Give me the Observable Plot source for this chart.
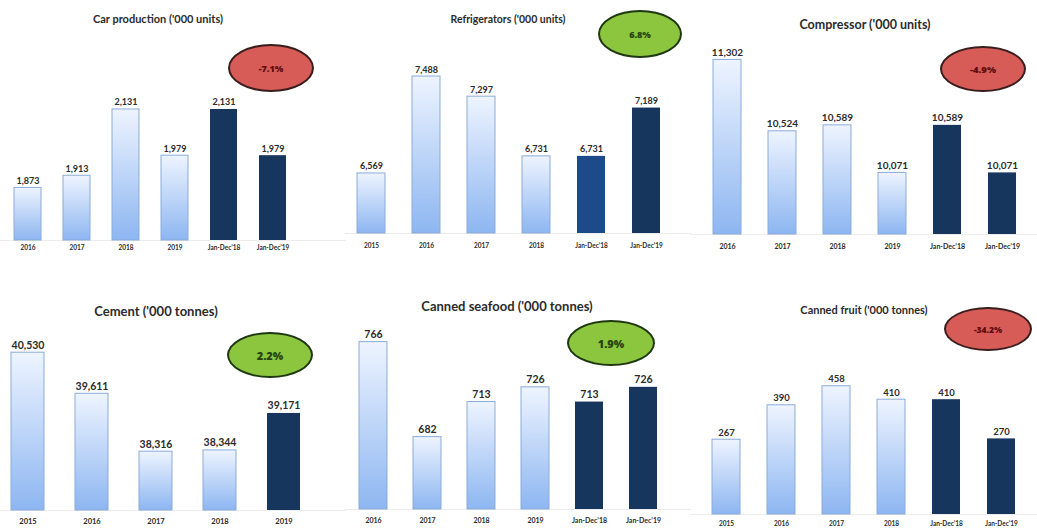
<!DOCTYPE html>
<html><head><meta charset="utf-8">
<script src="https://cdn.jsdelivr.net/npm/d3@7"></script>
<script src="https://cdn.jsdelivr.net/npm/@observablehq/plot@0.6"></script>
<style>
body{margin:0;background:#fff;font-family:Lato,"Open Sans",sans-serif;}
#root{position:relative;width:1037px;height:528px;overflow:hidden;background:#fff;}
.panel{position:absolute;}
.panel svg{overflow:visible;}
.title{position:absolute;transform:translate(-50%,-50%);white-space:nowrap;font-weight:700;color:#2b2b2b;}
.badge{position:absolute;display:flex;align-items:center;justify-content:center;border-radius:50%;font-family:"Open Sans",sans-serif;font-weight:800;font-size:9px;box-sizing:border-box;border:2px solid;}
</style></head><body>
<svg width="0" height="0" style="position:absolute"><defs>
<linearGradient id="barGrad" x1="0" y1="0" x2="0" y2="1">
<stop offset="0" stop-color="#eef4ff"/><stop offset="1" stop-color="#8db6f1"/>
</linearGradient></defs></svg>
<div id="root"></div>
<script>
// ---- data ----
const carCats = ["2016","2017","2018","2019","Jan-Dec’18","Jan-Dec’19"];
const carVals = [1873,1913,2131,1979,2131,1979];
const carChange = "-7.1%";

const fridgeCats = ["2015","2016","2017","2018","Jan-Dec’18","Jan-Dec’19"];
const fridgeVals = [6569,7488,7297,6731,6731,7189];
const fridgeChange = "6.8%";

const compCats = ["2016","2017","2018","2019","Jan-Dec’18","Jan-Dec’19"];
const compVals = [11302,10524,10589,10071,10589,10071];
const compChange = "-4.9%";

const cementCats = ["2015","2016","2017","2018","2019"];
const cementVals = [40530,39611,38316,38344,39171];
const cementChange = "2.2%";

const seafoodCats = ["2016","2017","2018","2019","Jan-Dec’18","Jan-Dec’19"];
const seafoodVals = [766,682,713,726,713,726];
const seafoodChange = "1.9%";

const fruitCats = ["2015","2016","2017","2018","Jan-Dec’18","Jan-Dec’19"];
const fruitVals = [267,390,458,410,410,270];
const fruitChange = "-34.2%";

// ---- layout ----
const panels = [
  {title:"Car production ('000 units)", cats:carCats, vals:carVals, change:carChange,
   dark:["Jan-Dec’18","Jan-Dec’19"], mid:[],
   left:0, top:0, w:345, h:264, xRange:[-10,310], pad:0.45,
   yMin:1700, yMax:2300, base:240, k:0.304,
   tx:158, ty:18, tfs:11, lfs:9, tkfs:6.5, tkpad:5,
   badge:{cx:271, cy:68, rx:43, ry:24, fs:9}},
  {title:"Refrigerators ('000 units)", cats:fridgeCats, vals:fridgeVals, change:fridgeChange,
   dark:["Jan-Dec’19"], mid:["Jan-Dec’18"],
   left:345, top:0, w:345, h:264, xRange:[-16,342], pad:0.5,
   yMin:6000, yMax:7600, base:233, k:0.1055,
   tx:163, ty:19, tfs:10.5, lfs:9, tkfs:6.5, tkpad:10,
   badge:{cx:640-345, cy:34, rx:42, ry:24, fs:9}},
  {title:"Compressor ('000 units)", cats:compCats, vals:compVals, change:compChange,
   dark:["Jan-Dec’18","Jan-Dec’19"], mid:[],
   left:690, top:0, w:347, h:264, xRange:[-4,354], pad:0.49,
   yMin:9400, yMax:11500, base:234, k:0.0918,
   tx:175, ty:24, tfs:12.5, lfs:10, tkfs:7, tkpad:10,
   badge:{cx:983-690, cy:69, rx:43, ry:23, fs:9.5}},
  {title:"Cement ('000 tonnes)", cats:cementCats, vals:cementVals, change:cementChange,
   dark:["2019"], mid:[],
   left:0, top:264, w:345, h:264, xRange:[-22,333], pad:0.49,
   yMin:37000, yMax:41000, base:246, k:0.0447,
   tx:156, ty:47, tfs:13, lfs:10.5, tkfs:7.5, tkpad:8,
   badge:{cx:270, cy:355-264, rx:43, ry:23, fs:11}},
  {title:"Canned seafood ('000 tonnes)", cats:seafoodCats, vals:seafoodVals, change:seafoodChange,
   dark:["Jan-Dec’18","Jan-Dec’19"], mid:[],
   left:345, top:264, w:345, h:264, xRange:[-15,340], pad:0.487,
   yMin:618, yMax:780, base:245, k:1.131,
   tx:162, ty:42, tfs:13, lfs:10.5, tkfs:7, tkpad:9,
   badge:{cx:611-345, cy:343-264, rx:44, ry:23, fs:11}},
  {title:"Canned fruit ('000 tonnes)", cats:fruitCats, vals:fruitVals, change:fruitChange,
   dark:["Jan-Dec’18","Jan-Dec’19"], mid:[],
   left:690, top:264, w:347, h:264, xRange:[-8,355], pad:0.5,
   yMin:0, yMax:480, base:250, k:0.28,
   tx:174, ty:45, tfs:11, lfs:9.5, tkfs:6.5, tkpad:7,
   badge:{cx:988-690, cy:329-264, rx:44, ry:22, fs:8.5}}
];

const root = document.getElementById("root");
const fmt = d3.format(",");

for (const p of panels) {
  const data = p.cats.map((c, i) => ({cat: c, val: p.vals[i]}));
  const isHist = d => !p.dark.includes(d.cat) && !p.mid.includes(d.cat);
  const fillOf = d => p.mid.includes(d.cat) ? "#1d4a88" : p.dark.includes(d.cat) ? "#17365e" : "url(#barGrad)";

  const chart = Plot.plot({
    width: p.w, height: p.h,
    marginTop: 0, marginLeft: 0, marginRight: 0, marginBottom: p.h - p.base,
    x: {type: "band", domain: p.cats, range: p.xRange, padding: p.pad, label: null, axis: null},
    y: {domain: [p.yMin, p.yMax], range: [p.base, p.base - (p.yMax - p.yMin) * p.k], clamp: true, axis: null},
    style: {fontFamily: "Lato, 'Open Sans', sans-serif", background: "transparent", color: "#2b2b2b"},
    marks: [
      Plot.frame({anchor: "bottom", stroke: "#ececec"}),
      Plot.barY(data, {x: "cat", y: "val", fill: fillOf,
        stroke: d => isHist(d) ? "#8aabd9" : "none", strokeWidth: 1}),
      Plot.text(data, {x: "cat", y: "val", text: d => fmt(d.val), lineAnchor: "bottom", dy: -4,
        fontSize: p.lfs, fontWeight: 700, fill: "#2b2b2b"}),
      Plot.axisX({domain: p.cats, tickSize: 0, tickPadding: p.tkpad, fontSize: p.tkfs, fontWeight: 700, label: null, fill: "#2b2b2b"})
    ]
  });

  const div = document.createElement("div");
  div.className = "panel";
  div.style.left = p.left + "px";
  div.style.top = p.top + "px";
  div.style.width = p.w + "px";
  div.style.height = p.h + "px";
  div.appendChild(chart);

  const t = document.createElement("div");
  t.className = "title";
  t.style.left = p.tx + "px";
  t.style.top = p.ty + "px";
  t.style.fontSize = p.tfs + "px";
  t.textContent = p.title;
  div.appendChild(t);

  const neg = p.change.startsWith("-");
  const b = document.createElement("div");
  b.className = "badge";
  b.style.left = (p.badge.cx - p.badge.rx) + "px";
  b.style.top = (p.badge.cy - p.badge.ry) + "px";
  b.style.width = (2 * p.badge.rx) + "px";
  b.style.height = (2 * p.badge.ry) + "px";
  b.style.fontSize = p.badge.fs + "px";
  b.style.background = neg ? "#d75b57" : "#8cc63f";
  b.style.borderColor = neg ? "#3a1d1d" : "#1f3812";
  b.style.color = neg ? "#5e0d0d" : "#27440f";
  b.textContent = p.change;
  div.appendChild(b);

  root.appendChild(div);
}
</script>
</body></html>
